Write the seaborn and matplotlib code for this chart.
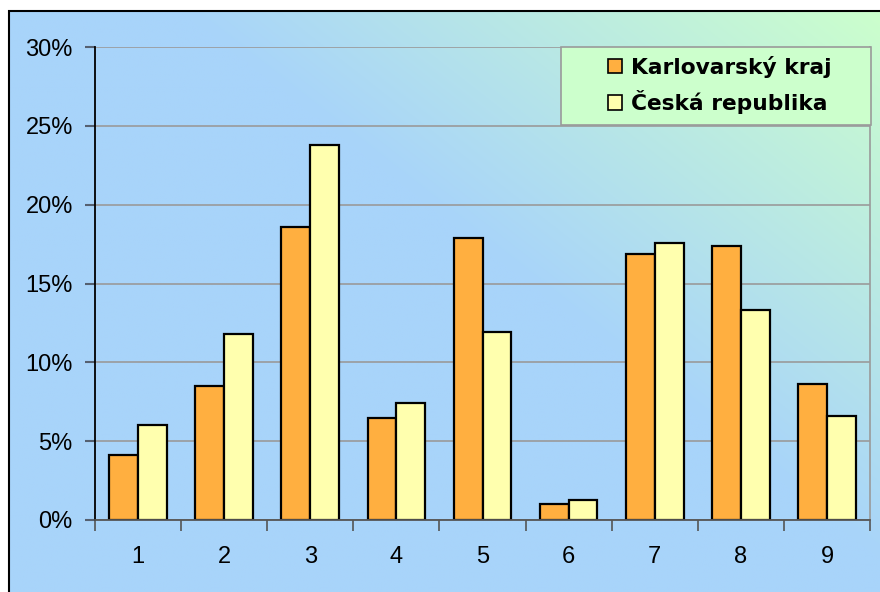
import matplotlib
matplotlib.use("Agg")
import matplotlib.pyplot as plt
from matplotlib.patches import Rectangle
from matplotlib.ticker import FixedLocator, PercentFormatter
import seaborn as sns
import pandas as pd
import numpy as np

# Data (percent)
categories = ["1", "2", "3", "4", "5", "6", "7", "8", "9"]
karlovarsky = [4.1, 8.5, 18.6, 6.5, 17.9, 1.0, 16.9, 17.4, 8.6]
ceska = [6.0, 11.8, 23.8, 7.4, 11.9, 1.3, 17.6, 13.3, 6.6]
series_names = ["Karlovarský kraj", "Česká republika"]
colors = ["#FFAF40", "#FFFFAE"]

df = pd.DataFrame({
    "kat": categories * 2,
    "podil": karlovarsky + ceska,
    "serie": [series_names[0]] * len(categories) + [series_names[1]] * len(categories),
})

sns.set_theme(style="white")
plt.rcParams["font.family"] = ["Liberation Sans", "DejaVu Sans"]

W, H = 880, 592
fig = plt.figure(figsize=(W / 100, H / 100), dpi=100)
fig.patch.set_facecolor("white")

# Gradient background (blue bottom-left -> green top-right)
bx0, by1 = 9 / W, 1 - 11 / H
bg = fig.add_axes([bx0, 0, 1 - bx0, by1], zorder=-1)
xx, yy = np.meshgrid(np.linspace(0, 1, 400), np.linspace(1, 0, 300))
t = np.clip((xx * 1.0 + yy * 0.85 - 1.05) / 0.8, 0, 1)
blue = np.array([168, 212, 250]) / 255
green = np.array([204, 255, 204]) / 255
img = blue[None, None, :] * (1 - t[..., None]) + green[None, None, :] * t[..., None]
bg.imshow(img, aspect="auto", extent=[0, 1, 0, 1])
bg.axis("off")

# Chart frame
fig.patches.append(Rectangle((bx0, -0.05), 1.2, by1 + 0.05, transform=fig.transFigure,
                             fill=False, edgecolor="black", linewidth=1.5))

ax_l, ax_r, ax_t, ax_b = 95, 870, 47, 520
ax = fig.add_axes([ax_l / W, 1 - ax_b / H, (ax_r - ax_l) / W, (ax_b - ax_t) / H])
ax.patch.set_alpha(0)

sns.barplot(data=df, x="kat", y="podil", hue="serie", palette=colors, width=0.67,
            edgecolor="black", linewidth=1.6, saturation=1, ax=ax)

ax.set_ylim(0, 30)
ax.set_xlim(-0.5, len(categories) - 0.5)
ax.set_yticks(np.arange(0, 31, 5))
ax.yaxis.set_major_formatter(PercentFormatter(decimals=0))
ax.grid(axis="y", color="#9a9a9a", linewidth=1.2)
ax.set_axisbelow(True)
ax.set_xlabel("")
ax.set_ylabel("")

ax.xaxis.set_minor_locator(FixedLocator(np.arange(-0.5, len(categories), 1)))
ax.tick_params(axis="x", which="major", length=0, pad=19, labelsize=17, labelcolor="black")
ax.tick_params(axis="x", which="minor", length=8, width=1.2, color="#555555", bottom=True)
ax.tick_params(axis="y", which="major", length=7, width=1.5, color="#556070", left=True,
               pad=9, labelsize=17, labelcolor="black")

ax.spines["top"].set_visible(False)
ax.spines["left"].set_color("black")
ax.spines["left"].set_linewidth(1.3)
ax.spines["bottom"].set_color("#555555")
ax.spines["bottom"].set_linewidth(1.3)
ax.spines["right"].set_color("#9a9a9a")
ax.spines["right"].set_linewidth(1.2)

# Legend box (wider than its content, as in the original)
lx0, lx1, ly0, ly1 = 561, 871, 47, 125
aw, ah = ax_r - ax_l, ax_b - ax_t
ax.add_patch(Rectangle(((lx0 - ax_l) / aw, (ax_b - ly1) / ah), (lx1 - lx0) / aw, (ly1 - ly0) / ah,
                       transform=ax.transAxes, facecolor="#CCFFCC", edgecolor="#9a9a9a",
                       linewidth=1.2, zorder=4, clip_on=False))
leg = ax.legend(loc="center", bbox_to_anchor=((720 - ax_l) / aw, (ax_b - 85) / ah),
                frameon=False, prop={"family": "DejaVu Sans", "weight": "bold", "size": 15.7},
                labelcolor="black", handlelength=0.65, handleheight=0.65, handletextpad=0.4,
                labelspacing=0.58, borderpad=0)
leg.set_zorder(5)
for h in leg.legend_handles:
    h.set_linewidth(1.2)

fig.savefig("out.png", dpi=100)
